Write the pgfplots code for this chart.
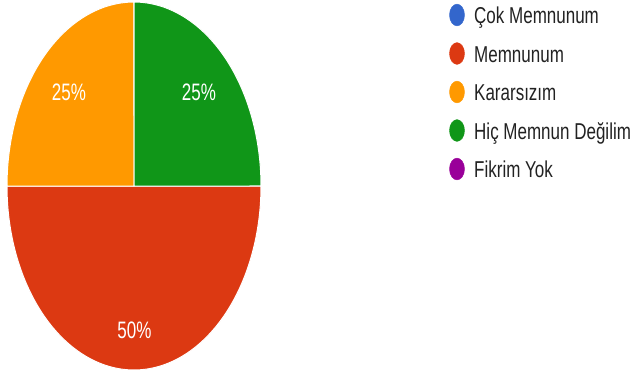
\documentclass[border=0pt]{standalone}
\usepackage{pgfplots}
\pgfplotsset{compat=1.18}
\usepackage{pgfplotstable}
\usepackage{graphicx}
\usepackage{fontspec}
\setmainfont{Liberation Sans}
\definecolor{cblue}{HTML}{3366CC}
\definecolor{cred}{HTML}{DC3912}
\definecolor{corange}{HTML}{FF9900}
\definecolor{cgreen}{HTML}{109618}
\definecolor{cpurple}{HTML}{990099}
\definecolor{ctext}{HTML}{222222}
% Survey answers (share of responses, %)
\pgfplotstableread{
cat value
CokMemnunum 0
Memnunum 50
Kararsizim 25
HicMemnunDegilim 25
FikrimYok 0
}\piedata
\begin{document}
\begin{tikzpicture}
\begin{axis}[
  at={(0,0)}, anchor=south west,
  scale only axis, width=638pt, height=370pt,
  xmin=0, xmax=638, ymin=0, ymax=370, y dir=reverse,
  hide axis, clip=true,
]
% slices start at 3 o'clock and run clockwise: Memnunum 50%, Kararsizim 25%, Hic Memnun Degilim 25%
\addplot[fill=cred, draw=white, line width=1pt, domain=0:180, samples=120]
  ({134+127*cos(x)},{186+184*sin(x)}) -- (axis cs:134,186) -- cycle;
\addplot[fill=corange, draw=white, line width=1pt, domain=180:270, samples=60]
  ({134+127*cos(x)},{186+184*sin(x)}) -- (axis cs:134,186) -- cycle;
\addplot[fill=cgreen, draw=white, line width=1pt, domain=270:360, samples=60]
  ({134+127*cos(x)},{186+184*sin(x)}) -- (axis cs:134,186) -- cycle;
% legend markers
\addplot[only marks, color=cblue, mark=*, mark size=7.5pt, mark options={yscale=1.45, draw=cblue, fill=cblue}] coordinates {(457,15)};
\addplot[only marks, color=cred, mark=*, mark size=7.5pt, mark options={yscale=1.45, draw=cred, fill=cred}] coordinates {(457,53.5)};
\addplot[only marks, color=corange, mark=*, mark size=7.5pt, mark options={yscale=1.45, draw=corange, fill=corange}] coordinates {(457,92)};
\addplot[only marks, color=cgreen, mark=*, mark size=7.5pt, mark options={yscale=1.45, draw=cgreen, fill=cgreen}] coordinates {(457,130.5)};
\addplot[only marks, color=cpurple, mark=*, mark size=7.5pt, mark options={yscale=1.45, draw=cpurple, fill=cpurple}] coordinates {(457,169)};
% slice labels
\node[anchor=base, text=white, font=\fontsize{17}{17}\selectfont, inner sep=0pt] at (axis cs:69,100) {\scalebox{1}[1.4]{25\%}};
\node[anchor=base, text=white, font=\fontsize{17}{17}\selectfont, inner sep=0pt] at (axis cs:199,100) {\scalebox{1}[1.4]{25\%}};
\node[anchor=base, text=white, font=\fontsize{17}{17}\selectfont, inner sep=0pt] at (axis cs:134.5,338) {\scalebox{1}[1.4]{50\%}};
% legend text
\node[anchor=base west, text=ctext, font=\fontsize{17}{17}\selectfont, inner sep=0pt] at (axis cs:474,23.5) {\scalebox{1}[1.35]{Çok Memnunum}};
\node[anchor=base west, text=ctext, font=\fontsize{17}{17}\selectfont, inner sep=0pt] at (axis cs:474,62) {\scalebox{1}[1.35]{Memnunum}};
\node[anchor=base west, text=ctext, font=\fontsize{17}{17}\selectfont, inner sep=0pt] at (axis cs:474,100.5) {\scalebox{1}[1.35]{Kararsızım}};
\node[anchor=base west, text=ctext, font=\fontsize{17}{17}\selectfont, inner sep=0pt] at (axis cs:474,139) {\scalebox{1}[1.35]{Hiç Memnun Değilim}};
\node[anchor=base west, text=ctext, font=\fontsize{17}{17}\selectfont, inner sep=0pt] at (axis cs:474,177.5) {\scalebox{1}[1.35]{Fikrim Yok}};
\end{axis}
\pgfresetboundingbox
\useasboundingbox (0,0) rectangle (638pt,370pt);
\end{tikzpicture}
\end{document}
